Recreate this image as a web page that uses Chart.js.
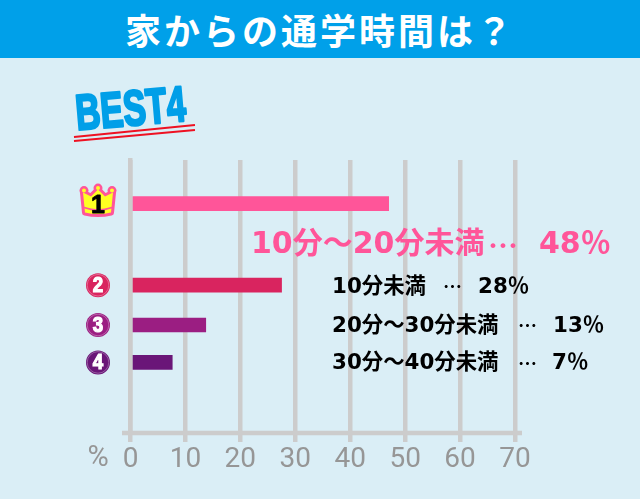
<!DOCTYPE html>
<html lang="ja"><head><meta charset="utf-8">
<script src="https://cdn.jsdelivr.net/npm/chart.js@4"></script>
<style>
html,body{margin:0;padding:0;background:#daeef6;width:640px;height:499px;overflow:hidden}
#banner{position:absolute;left:0;top:0;width:640px;height:58px;background:#00a0e9;color:#fff;font:bold 36px/58px 'Noto Sans CJK JP',sans-serif;text-align:center;letter-spacing:3px}
canvas{position:absolute;left:0;top:0}
</style></head><body>
<div id="banner">家からの通学時間は？</div>
<canvas id="c" width="640" height="499"></canvas>
<script>
const categories = ['10分～20分未満','10分未満','20分～30分未満','30分～40分未満'];
const barValues = [47, 27.5, 13.7, 7.6];
const percentLabels = ['48％','28％','13％','7％'];
const rowOrder = [1.09, 3.13, 4.125, 5.06];
const tickLabels = [0,10,20,30,40,50,60,70];
const barColors = ['#ff5599','#d9245f','#9b1e82','#6a1678'];
const GREY = '#cccccc';
const CJK = "'Noto Sans CJK JP'";
const LATIN = "'DejaVu Sans','Noto Sans CJK JP'";

function crown(ctx, cx, cy){
  const balls=[[-14,-10],[0,-12.5],[14,-10]];
  const path = () => {
    ctx.beginPath();
    ctx.moveTo(cx-13, cy+12);
    ctx.lineTo(cx-15, cy-8);
    ctx.lineTo(cx-7, cy-4);
    ctx.lineTo(cx, cy-11);
    ctx.lineTo(cx+7, cy-4);
    ctx.lineTo(cx+15, cy-8);
    ctx.lineTo(cx+13, cy+12);
    ctx.quadraticCurveTo(cx, cy+15, cx-13, cy+12);
    ctx.closePath();
  };
  ctx.save();
  ctx.lineJoin='round';
  path(); ctx.strokeStyle=barColors[0]; ctx.lineWidth=6; ctx.stroke();
  ctx.fillStyle=barColors[0];
  balls.forEach(([dx,dy])=>{ctx.beginPath();ctx.arc(cx+dx,cy+dy,4.5,0,7);ctx.fill();});
  path(); ctx.fillStyle='#ffff22'; ctx.fill();
  balls.forEach(([dx,dy])=>{ctx.beginPath();ctx.arc(cx+dx,cy+dy,2,0,7);ctx.fill();});
  ctx.strokeStyle=barColors[0]; ctx.lineWidth=1.6;
  ctx.beginPath(); ctx.moveTo(cx-14,cy+7); ctx.quadraticCurveTo(cx,cy+12,cx+14,cy+7); ctx.stroke();
  ctx.fillStyle='#000'; ctx.strokeStyle='#000'; ctx.lineWidth=0.8; ctx.font="bold 25px 'Liberation Sans'";
  ctx.textAlign='center'; ctx.textBaseline='middle';
  ctx.strokeText('1',cx,cy+6); ctx.fillText('1',cx,cy+6);
  ctx.restore();
}

const decorate = {
  id:'decorate',
  beforeDatasetsDraw(chart){
    const {ctx,chartArea:a} = chart;
    ctx.save();
    ctx.strokeStyle=GREY; ctx.lineWidth=4.5;
    ctx.beginPath(); ctx.moveTo(a.left-8.5,a.bottom); ctx.lineTo(a.right+7,a.bottom); ctx.stroke();
    ctx.restore();
  },
  afterDraw(chart){
    const {ctx,scales:{y}} = chart;
    ctx.save();
    ctx.textBaseline='middle'; ctx.textAlign='left';
    // BEST4
    ctx.save();
    ctx.translate(77,130); ctx.rotate(-0.085); ctx.scale(0.685,1);
    ctx.font="bold 50px 'Liberation Sans'";
    ctx.fillStyle='#009fe8'; ctx.strokeStyle='#009fe8'; ctx.lineWidth=2.5; ctx.lineJoin='round';
    ctx.textBaseline='alphabetic';
    ctx.strokeText('BEST4',0,0); ctx.fillText('BEST4',0,0);
    ctx.restore();
    ctx.strokeStyle='#ee1122'; ctx.lineWidth=2;
    ctx.beginPath(); ctx.moveTo(74,137); ctx.lineTo(195,125); ctx.moveTo(74,141); ctx.lineTo(195,130); ctx.stroke();
    // rank icons
    const ix = 98;
    crown(ctx, ix, y.getPixelForValue(rowOrder[0])-3);
    for(let i=1;i<4;i++){
      const py=y.getPixelForValue(rowOrder[i]);
      ctx.fillStyle=barColors[i]; ctx.beginPath(); ctx.arc(ix,py,12,0,7); ctx.fill();
      ctx.strokeStyle='rgba(255,255,255,0.6)'; ctx.lineWidth=0.5; ctx.beginPath(); ctx.arc(ix,py,10.8,0,7); ctx.stroke();
      ctx.save();
      ctx.translate(ix,py+1); ctx.scale(0.85,1);
      ctx.fillStyle='#fff'; ctx.strokeStyle='#fff'; ctx.lineWidth=1.2;
      ctx.font="bold 22px 'Liberation Sans'"; ctx.textAlign='center';
      ctx.strokeText(String(i+1),0,0); ctx.fillText(String(i+1),0,0);
      ctx.restore();
    }
    // value labels
    ctx.fillStyle=barColors[0];
    const by=y.getPixelForValue(rowOrder[0])+42;
    ctx.font="bold 30px "+LATIN; ctx.fillText(categories[0],251,by);
    ctx.font="bold 30px "+CJK; ctx.fillText('…',488,by);
    ctx.font="bold 30px "+LATIN; ctx.fillText(percentLabels[0],539,by);
    ctx.fillStyle='#000';
    const dotsX=[0,443,518,518], pctX=[0,478,553,552];
    const textShift=[0,2,1,1.5];
    for(let i=1;i<4;i++){
      const py=y.getPixelForValue(rowOrder[i])+textShift[i];
      ctx.font="bold 21.4px "+LATIN; ctx.fillText(categories[i],332,py);
      ctx.font="bold 19px "+CJK; ctx.fillText('…',dotsX[i],py);
      ctx.font="bold 21.4px "+LATIN; ctx.fillText(percentLabels[i],pctX[i],py);
    }
    // unit
    ctx.fillStyle='#969696'; ctx.font="29px Roboto";
    ctx.textAlign='center';
    ctx.fillText('%',98,459);
    ctx.restore();
  }
};

new Chart(document.getElementById('c'),{
  type:'bar',
  plugins:[decorate],
  data:{
    labels:categories,
    datasets:[{
      data:barValues.map((v,i)=>({x:v,y:rowOrder[i]})),
      backgroundColor:barColors,
      barThickness:14
    }]
  },
  options:{
    indexAxis:'y',
    responsive:false,
    animation:false,
    devicePixelRatio:1,
    layout:{padding:{left:130.5,right:125,top:160,bottom:0}},
    plugins:{legend:{display:false},tooltip:{enabled:false}},
    scales:{
      x:{
        type:'linear',min:0,max:70,
        afterFit(s){s.height=66;},
        afterBuildTicks(s){s.ticks=tickLabels.map(v=>({value:v}));},
        grid:{color:GREY,lineWidth:4.5,tickLength:9,tickColor:GREY,drawOnChartArea:true},
        border:{display:false},
        ticks:{color:'#969696',font:{family:"Roboto",size:28},padding:1,maxRotation:0}
      },
      y:{
        type:'linear',reverse:true,min:0,max:6.825,offset:false,
        afterFit(s){s.width=0;},
        grid:{display:false},
        border:{display:true,color:GREY,width:4.5,z:1},
        ticks:{display:false}
      }
    }
  }
});
</script>
</body></html>
